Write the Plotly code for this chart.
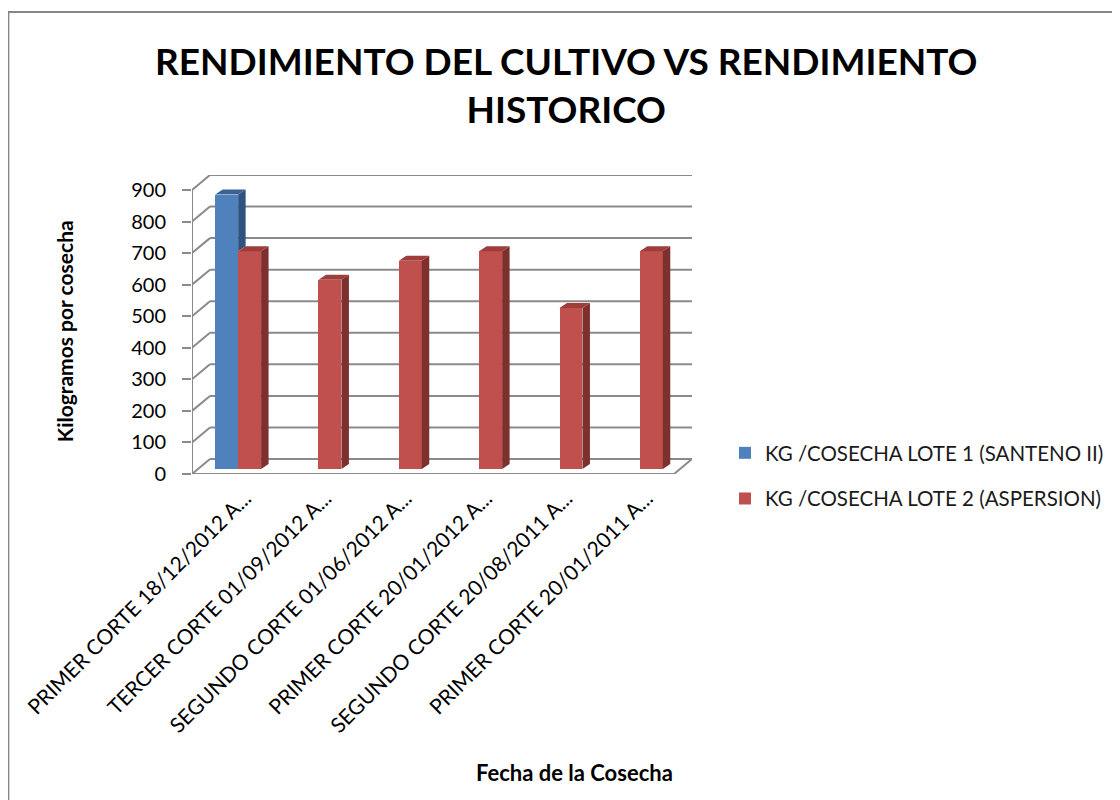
import plotly.graph_objects as go

# ---------------- data ----------------
categories = [
    "PRIMER CORTE 18/12/2012 A...",
    "TERCER CORTE 01/09/2012 A...",
    "SEGUNDO CORTE 01/06/2012 A...",
    "PRIMER CORTE 20/01/2012 A...",
    "SEGUNDO CORTE 20/08/2011 A...",
    "PRIMER CORTE 20/01/2011 A...",
]
series_names = ["KG /COSECHA LOTE 1 (SANTENO II)", "KG /COSECHA LOTE 2 (ASPERSION)"]
lote1 = [870, None, None, None, None, None]
lote2 = [690, 600, 660, 690, 510, 690]
y_ticks = [0, 100, 200, 300, 400, 500, 600, 700, 800, 900]
title_text = "RENDIMIENTO DEL CULTIVO VS RENDIMIENTO<br>HISTORICO"
x_title = "Fecha de la Cosecha"
y_title = "Kilogramos por cosecha"

# ---------------- geometry / style ----------------
OFF = 8                         # page body margin
W, H = 1120 - OFF, 800 - OFF
L, R, T, B = 192 - OFF, 1120 - 693, 175 - OFF, 800 - 474
PW, PH = W - L - R, H - T - B
FONT = "Lato"
GRID = "#8A8A8A"

n = len(categories)
DX, DY = 0.2236, 47.5          # full depth of the 3-D box (x units, y units)
OX, OY = 0.0745, 15.7          # bar front plane offset inside the depth
DDX, DDY = 0.093, 15.8         # bar depth
BW = 0.2857                    # bar width
TX = 0.16                      # tick label anchor shift

colors = [
    dict(front="#4F81BD", side="#2F5280", top="#3A6296"),
    dict(front="#C0504D", side="#7E302E", top="#9E3D3A"),
]
offsets = [-BW, 0.0]
series = [lote1, lote2]


def px_x(px):
    return (px - OFF - L) / PW


def px_y(py):
    return (H - B - (py - OFF)) / PH


fig = go.Figure()

# front faces as real bars
for s, vals in enumerate(series):
    fig.add_trace(go.Bar(
        x=[k + OX for k in range(n)], y=vals, base=OY, width=BW, offset=offsets[s],
        marker=dict(color=colors[s]["front"], line=dict(width=0)),
        name=series_names[s], legendgroup=f"g{s}",
    ))

# side and top faces derived from the values
for s, vals in enumerate(series):
    sx, sy, tx, ty = [], [], [], []
    for k, v in enumerate(vals):
        if v is None:
            continue
        xl = k + OX + offsets[s]
        xr = xl + BW
        nb = 0
        if s + 1 < len(series) and series[s + 1][k] is not None:
            nb = series[s + 1][k]
        yb = OY + nb
        yt = OY + v
        sx += [xr, xr + DDX, xr + DDX, xr, xr, None]
        sy += [yb, yb + DDY, yt + DDY, yt, yb, None]
        tx += [xl, xr, xr + DDX, xl + DDX, xl, None]
        ty += [yt, yt, yt + DDY, yt + DDY, yt, None]
    fig.add_trace(go.Scatter(x=sx, y=sy, mode="lines", fill="toself", line=dict(width=0),
                             fillcolor=colors[s]["side"], showlegend=False, hoverinfo="skip"))
    fig.add_trace(go.Scatter(x=tx, y=ty, mode="lines", fill="toself", line=dict(width=0),
                             fillcolor=colors[s]["top"], showlegend=False, hoverinfo="skip"))

# gridlines, walls, floor
shapes = []
x0, x1 = -0.5, n - 0.5
for v in y_ticks:
    shapes.append(dict(type="line", xref="x", yref="y", x0=x0, y0=v, x1=x0 + DX, y1=v + DY,
                       line=dict(color=GRID, width=2), layer="below"))
    shapes.append(dict(type="line", xref="x", yref="y", x0=x0 + DX, y0=v + DY, x1=x1 + DX, y1=v + DY,
                       line=dict(color=GRID, width=2), layer="below"))
shapes.append(dict(type="line", xref="x", yref="y", x0=x0, y0=0, x1=x1, y1=0,
                   line=dict(color=GRID, width=2), layer="below"))
shapes.append(dict(type="line", xref="x", yref="y", x0=x1, y0=0, x1=x1 + DX, y1=DY,
                   line=dict(color=GRID, width=2), layer="below"))
shapes.append(dict(type="line", xref="x", yref="y", x0=x0, y0=0, x1=x0, y1=y_ticks[-1],
                   line=dict(color=GRID, width=2), layer="below"))
# chart border
shapes.append(dict(type="rect", xref="paper", yref="paper", x0=px_x(8), y0=px_y(830),
                   x1=px_x(1150), y1=px_y(12), line=dict(color="#868686", width=2),
                   fillcolor="rgba(0,0,0,0)", layer="below"))

annotations = [
    dict(text=f"<b>{title_text}</b>", xref="paper", yref="paper", x=px_x(567), y=px_y(84),
         xanchor="center", yanchor="middle", showarrow=False,
         font=dict(family=FONT, size=37, color="#000000")),
    dict(text=f"<b>{x_title}</b>", xref="paper", yref="paper", x=px_x(575), y=px_y(772),
         xanchor="center", yanchor="middle", showarrow=False,
         font=dict(family=FONT, size=22, color="#000000")),
    dict(text=f"<b>{y_title}</b>", xref="paper", yref="paper", x=px_x(64), y=px_y(331),
         xanchor="center", yanchor="middle", showarrow=False, textangle=-90,
         font=dict(family=FONT, size=21, color="#000000")),
]

fig.update_layout(
    width=W, height=H,
    margin=dict(l=L, r=R, t=T, b=B, pad=0),
    paper_bgcolor="white", plot_bgcolor="white",
    barmode="overlay", bargap=0,
    shapes=shapes, annotations=annotations,
    showlegend=True,
    legend=dict(x=px_x(725), y=px_y(433), xanchor="left", yanchor="top",
                font=dict(family=FONT, size=20.5, color="#1a1a1a"),
                traceorder="grouped", tracegroupgap=16, bgcolor="rgba(0,0,0,0)"),
    xaxis=dict(range=[x0, x1 + DX], tickmode="array", tickvals=[k + TX for k in range(n)],
               ticktext=categories, tickangle=-45, showgrid=False, zeroline=False,
               showline=False, ticks="", tickfont=dict(family=FONT, size=21, color="#000000"),
               ticklabelstandoff=7, fixedrange=True),
    yaxis=dict(range=[0, y_ticks[-1] + DY], tickmode="array", tickvals=y_ticks,
               showgrid=False, zeroline=False, showline=False, ticks="outside", ticklen=9,
               tickwidth=2, tickcolor=GRID, ticklabelstandoff=12,
               tickfont=dict(family=FONT, size=20, color="#000000"), fixedrange=True),
)

fig.write_html("out.html")
